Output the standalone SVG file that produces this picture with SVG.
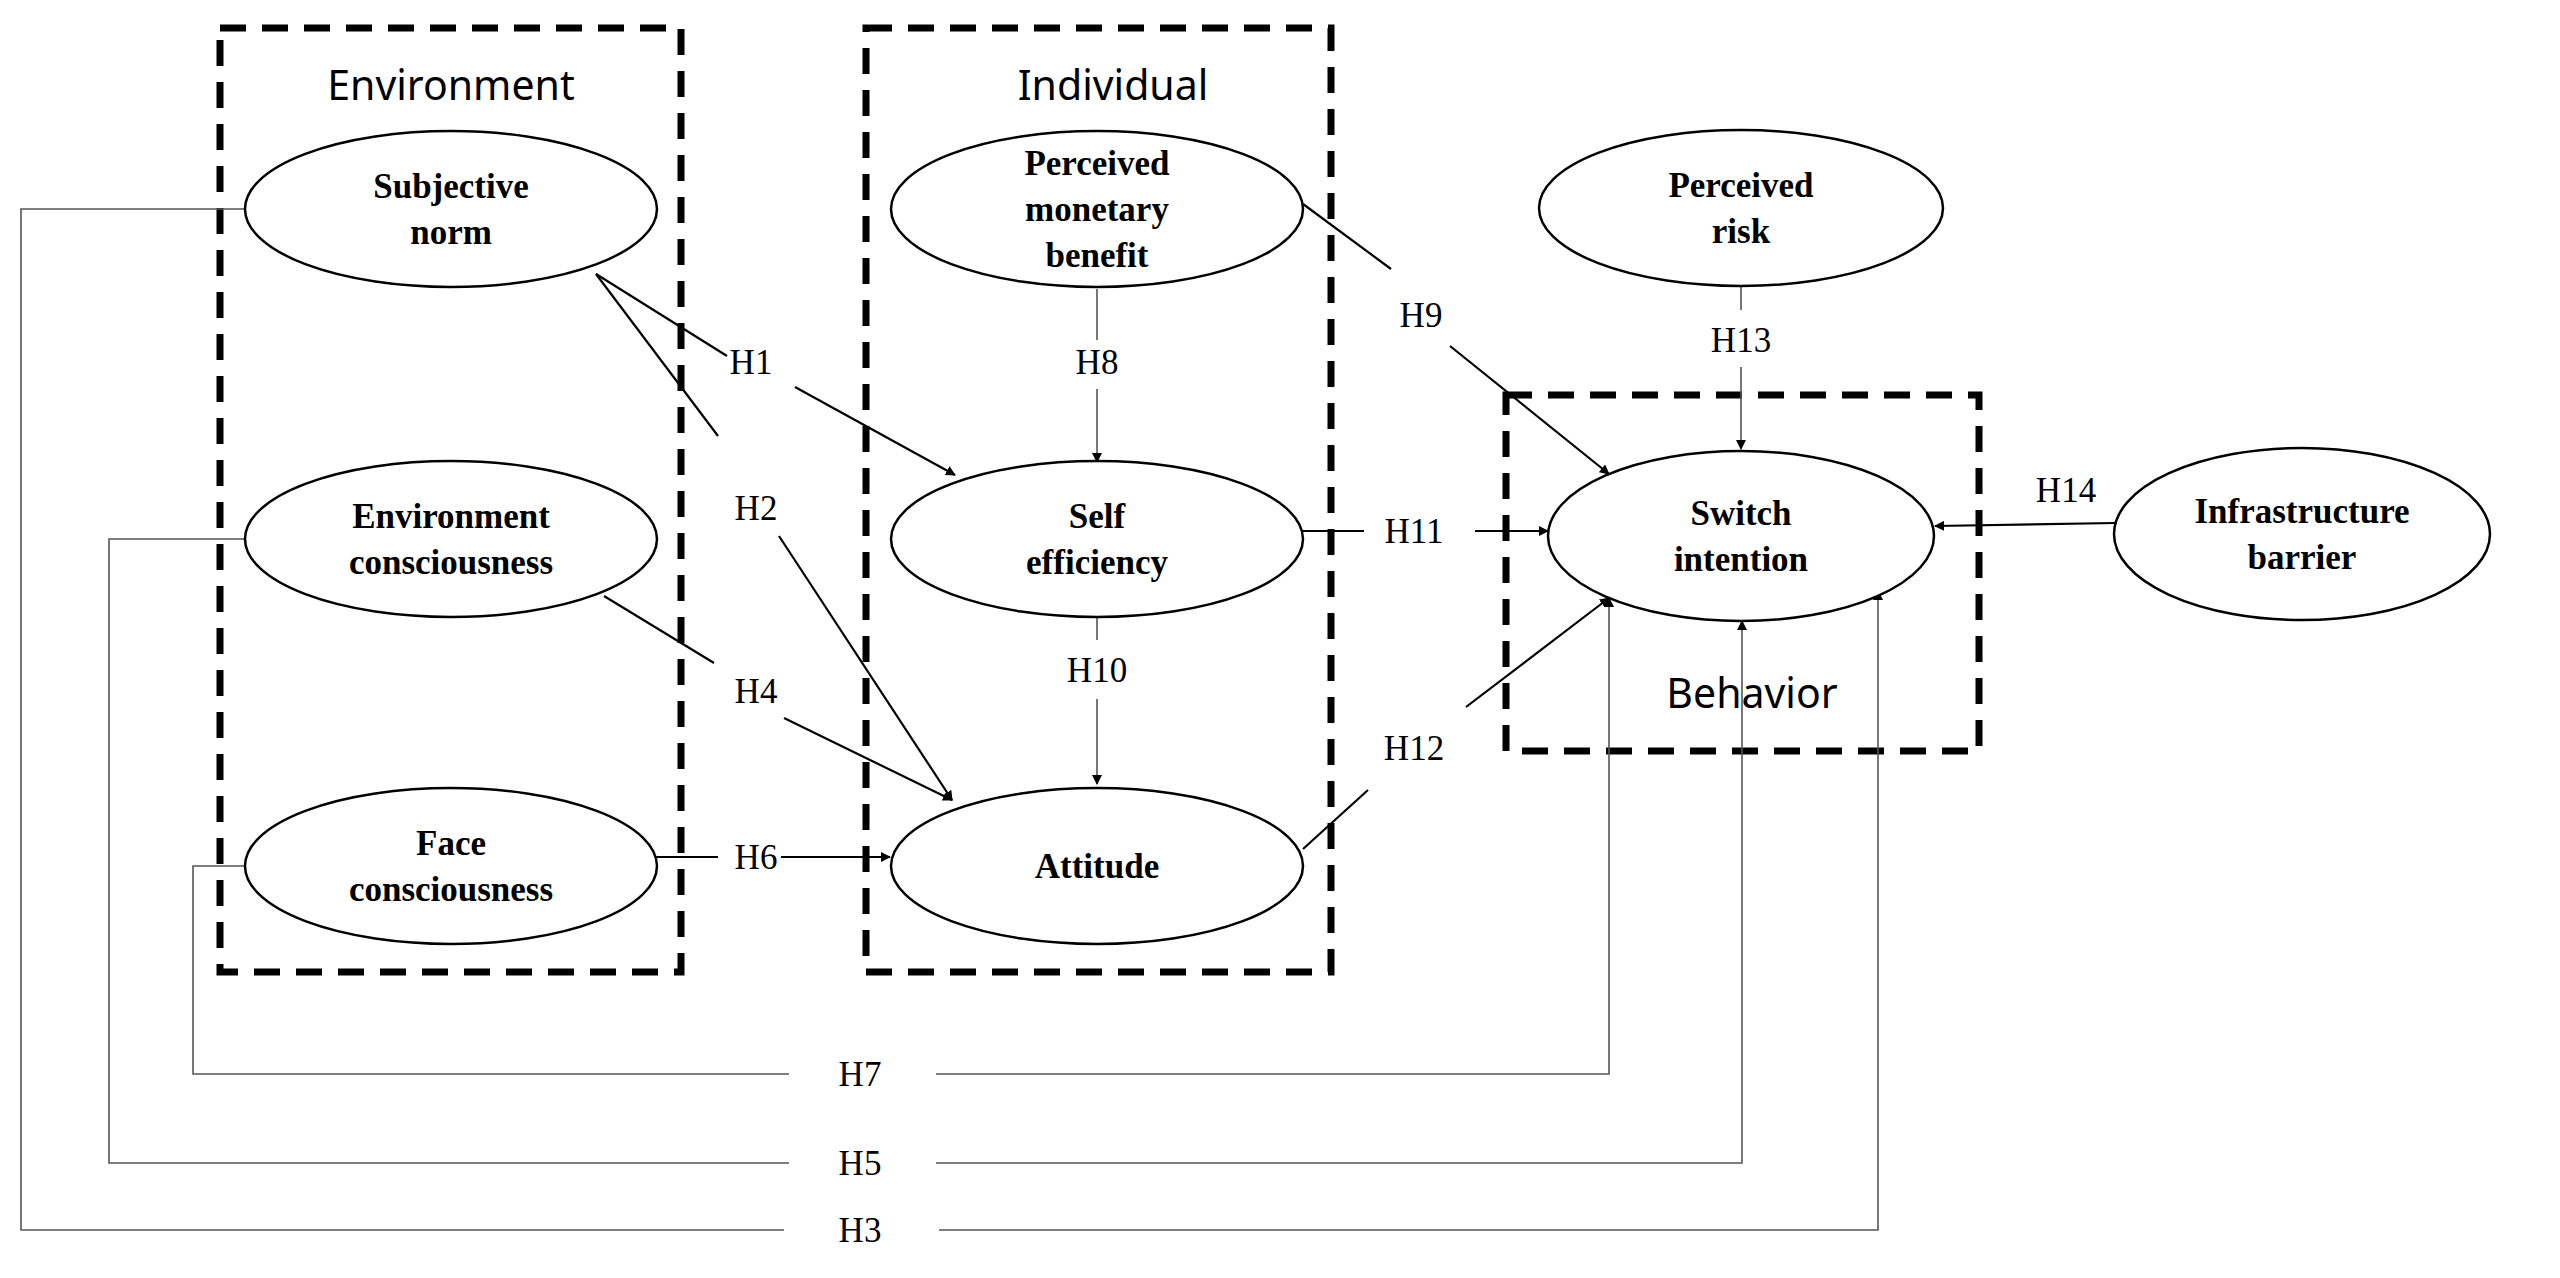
<svg xmlns="http://www.w3.org/2000/svg" width="2560" height="1278" viewBox="0 0 2560 1278">
<style>
.box{fill:none;stroke:#000;stroke-width:7;stroke-dasharray:26 16}
.grp{font-family:"Malgun Gothic","Noto Sans","Liberation Sans",sans-serif;font-size:41px;text-anchor:middle}
.n ellipse{fill:#fff;stroke:#000;stroke-width:2.5}
.n text{font-family:"Liberation Serif",serif;font-weight:bold;font-size:35px;text-anchor:middle}
.c{stroke:#000;stroke-width:2.2;fill:none}
.t{stroke:#555;stroke-width:1.6;fill:none}
.h{font-family:"Liberation Serif",serif;font-size:35px;text-anchor:middle}
</style>
<defs><marker id="a" markerWidth="10" markerHeight="10" refX="9" refY="5" orient="auto" markerUnits="userSpaceOnUse"><path d="M0,0 L10,5 L0,10 z" fill="#000"/></marker></defs>
<rect width="2560" height="1278" fill="#fff"/>
<rect class="box" x="220" y="28" width="461" height="944"/>
<rect class="box" x="866" y="28" width="465" height="944"/>
<rect class="box" x="1506" y="395" width="473" height="356"/>
<text class="grp" x="451" y="100">Environment</text>
<text class="grp" x="1113" y="100">Individual</text>
<text class="grp" x="1752" y="708">Behavior</text>
<g id="connectors">
<path class="c" d="M596,274 L727,356"/><path class="c" d="M795,387 L955,475" marker-end="url(#a)"/>
<path class="c" d="M596,274 L718,436"/><path class="c" d="M779,536 L952,800" marker-end="url(#a)"/>
<path class="c" d="M604,596 L714,663"/><path class="c" d="M784,718 L952,800" marker-end="url(#a)"/>
<path class="c" d="M656,857 L718,857"/><path class="c" d="M781,857 L890,857" marker-end="url(#a)"/>
<path class="t" d="M1097,289 L1097,340"/><path class="t" d="M1097,389 L1097,462" marker-end="url(#a)"/>
<path class="t" d="M1097,617 L1097,640"/><path class="t" d="M1097,699 L1097,784" marker-end="url(#a)"/>
<path class="c" d="M1303,204 L1391,269"/><path class="c" d="M1450,346 L1609,474" marker-end="url(#a)"/>
<path class="c" d="M1303,531 L1364,531"/><path class="c" d="M1475,531 L1548,531" marker-end="url(#a)"/>
<path class="c" d="M1303,849 L1368,790"/><path class="c" d="M1466,707 L1609,598" marker-end="url(#a)"/>
<path class="t" d="M1741,286 L1741,310"/><path class="t" d="M1741,367 L1741,449" marker-end="url(#a)"/>
<path class="c" d="M2115,523 L1935,526" marker-end="url(#a)"/>
<path class="t" d="M245,209 L21,209 L21,1230 L784,1230"/><path class="t" d="M939,1230 L1878,1230 L1878,591" marker-end="url(#a)"/>
<path class="t" d="M245,539 L109,539 L109,1163 L789,1163"/><path class="t" d="M936,1163 L1742,1163 L1742,621" marker-end="url(#a)"/>
<path class="t" d="M245,866 L193,866 L193,1074 L789,1074"/><path class="t" d="M936,1074 L1609,1074 L1609,598" marker-end="url(#a)"/>
</g>
<g class="h">
<text x="751" y="374">H1</text><text x="756" y="520">H2</text><text x="756" y="703">H4</text><text x="756" y="869">H6</text>
<text x="1097" y="374">H8</text><text x="1097" y="682">H10</text><text x="1421" y="327">H9</text><text x="1414" y="543">H11</text>
<text x="1414" y="760">H12</text><text x="1741" y="352">H13</text><text x="2066" y="502">H14</text>
<text x="860" y="1086">H7</text><text x="860" y="1175">H5</text><text x="860" y="1242">H3</text>
</g>
<g id="subjective-norm" class="n"><ellipse cx="451" cy="209" rx="206" ry="78"/><text x="451" y="198">Subjective</text><text x="451" y="244">norm</text></g>
<g id="environment-consciousness" class="n"><ellipse cx="451" cy="539" rx="206" ry="78"/><text x="451" y="528">Environment</text><text x="451" y="574">consciousness</text></g>
<g id="face-consciousness" class="n"><ellipse cx="451" cy="866" rx="206" ry="78"/><text x="451" y="855">Face</text><text x="451" y="901">consciousness</text></g>
<g id="perceived-monetary-benefit" class="n"><ellipse cx="1097" cy="209" rx="206" ry="78"/><text x="1097" y="175">Perceived</text><text x="1097" y="221">monetary</text><text x="1097" y="267">benefit</text></g>
<g id="self-efficiency" class="n"><ellipse cx="1097" cy="539" rx="206" ry="78"/><text x="1097" y="528">Self</text><text x="1097" y="574">efficiency</text></g>
<g id="attitude" class="n"><ellipse cx="1097" cy="866" rx="206" ry="78"/><text x="1097" y="878">Attitude</text></g>
<g id="perceived-risk" class="n"><ellipse cx="1741" cy="208" rx="202" ry="78"/><text x="1741" y="197">Perceived</text><text x="1741" y="243">risk</text></g>
<g id="switch-intention" class="n"><ellipse cx="1741" cy="536" rx="193" ry="85"/><text x="1741" y="525">Switch</text><text x="1741" y="571">intention</text></g>
<g id="infrastructure-barrier" class="n"><ellipse cx="2302" cy="534" rx="188" ry="86"/><text x="2302" y="523">Infrastructure</text><text x="2302" y="569">barrier</text></g>
</svg>
